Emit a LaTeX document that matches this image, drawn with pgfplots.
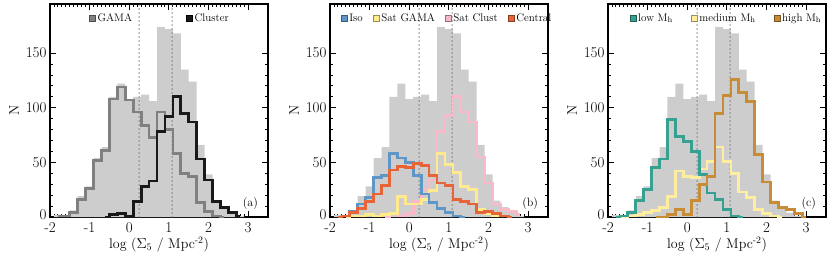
\documentclass[border=0pt]{standalone}
\usepackage{pgfplots}
\pgfplotsset{compat=1.18}
\definecolor{gfill}{RGB}{205,205,205}
\definecolor{gama}{RGB}{128,128,128}
\definecolor{clus}{RGB}{25,25,25}
\definecolor{iso}{RGB}{95,150,200}
\definecolor{satg}{RGB}{255,235,140}
\definecolor{satc}{RGB}{250,185,200}
\definecolor{cent}{RGB}{230,100,55}
\definecolor{lowm}{RGB}{55,160,145}
\definecolor{medm}{RGB}{255,238,160}
\definecolor{highm}{RGB}{200,140,55}
\definecolor{dotc}{RGB}{100,100,100}
\pgfplotsset{
  panel/.style={
    scale only axis, width=218pt, height=213pt, anchor=south west,
    xmin=-2, xmax=3.5, ymin=0, ymax=195,
    xtick={-2,-1,0,1,2,3}, ytick={0,50,100,150},
    yticklabels={\raisebox{4pt}{0},50,100,150},
    minor x tick num=9, minor y tick num=4,
    major tick length=6pt, minor tick length=3pt,
    every tick/.style={black, line width=0.9pt},
    axis line style={line width=1.6pt},
    tick label style={font=\fontsize{15}{17}\selectfont},
    xticklabel style={yshift=-2pt},
    /pgf/number format/assume math mode=true,
    label style={font=\fontsize{14}{16}\selectfont},
    xlabel style={yshift=3pt},
    xlabel={log ($\Sigma_5$ / Mpc\textsuperscript{-2})},
    ylabel={N},
    clip=false,
    legend style={draw=none, fill=none, anchor=north west,
      font=\fontsize{11}{13}\selectfont, legend columns=-1},
  },
  hist/.style={const plot mark mid, line width=2.7pt, forget plot},
  tot/.style={ybar interval, fill=gfill, draw=none, forget plot},
  dotl/.style={dotc, line width=1.4pt, dash pattern=on 0pt off 4pt, line cap=round, forget plot},
  legsq/.style={legend image code/.code={\draw[##1, line width=0.5pt] (0pt,-3pt) rectangle (6pt,3pt);}},
}
\begin{document}
\begin{tikzpicture}
\useasboundingbox (0pt,0pt) rectangle (830pt,255pt);
% ---------------- panel (a)
\begin{axis}[panel, at={(50pt,38pt)},
  legend style={at={(0.165,0.975)}, /tikz/every even column/.append style={column sep=52pt}}]
\addlegendimage{legsq, draw=gama!60!black, fill=gama}
\addlegendentry{GAMA}
\addlegendimage{legsq, draw=black, fill=clus}
\addlegendentry{Cluster}
\addplot[tot] coordinates {(-1.9,2) (-1.7,2) (-1.5,6) (-1.3,19) (-1.1,28) (-0.9,54) (-0.7,64) (-0.5,110) (-0.3,122) (-0.1,108) (0.1,110) (0.3,112) (0.5,106) (0.7,174) (0.9,172) (1.1,168) (1.3,135) (1.5,124) (1.7,66) (1.9,39) (2.1,15) (2.3,9) (2.5,4) (2.7,1) (2.9,1)};
\addplot[dotl] coordinates {(0.25,0) (0.25,195)};
\addplot[dotl] coordinates {(1.08,0) (1.08,195)};
\addplot[hist, gama] coordinates {(-1.8,1) (-1.6,1) (-1.4,4) (-1.2,16) (-1.0,26) (-0.8,52) (-0.6,61) (-0.4,108) (-0.2,119) (0.0,107) (0.2,96) (0.4,84) (0.6,73) (0.8,96) (1.0,80) (1.2,58) (1.4,40) (1.6,37) (1.8,13) (2.0,5) (2.2,1) (2.4,0)};
\addplot[hist, clus] coordinates {(-0.6,0) (-0.4,2) (-0.2,3) (0.0,1) (0.2,14) (0.4,28) (0.6,33) (0.8,78) (1.0,92) (1.2,110) (1.4,95) (1.6,87) (1.8,53) (2.0,34) (2.2,14) (2.4,9) (2.6,4) (2.8,1)};
\node[anchor=south east, font=\fontsize{12}{14}\selectfont] at (rel axis cs:0.97,0.02) {(a)};
\end{axis}
% ---------------- panel (b)
\begin{axis}[panel, at={(330pt,38pt)},
  legend style={at={(0.035,0.975)}, /tikz/every even column/.append style={column sep=8pt}}]
\addlegendimage{legsq, draw=iso!60!black, fill=iso}
\addlegendentry{Iso}
\addlegendimage{legsq, draw=satg!60!black, fill=satg}
\addlegendentry{Sat GAMA}
\addlegendimage{legsq, draw=satc!60!black, fill=satc}
\addlegendentry{Sat Clust}
\addlegendimage{legsq, draw=cent!60!black, fill=cent}
\addlegendentry{Central}
\addplot[tot] coordinates {(-1.9,2) (-1.7,2) (-1.5,6) (-1.3,19) (-1.1,28) (-0.9,54) (-0.7,64) (-0.5,110) (-0.3,122) (-0.1,108) (0.1,110) (0.3,112) (0.5,106) (0.7,174) (0.9,172) (1.1,168) (1.3,135) (1.5,124) (1.7,66) (1.9,39) (2.1,15) (2.3,9) (2.5,4) (2.7,1) (2.9,1)};
\addplot[dotl] coordinates {(0.25,0) (0.25,195)};
\addplot[dotl] coordinates {(1.08,0) (1.08,195)};
\addplot[hist, satc] coordinates {(-0.6,0) (-0.4,3) (-0.2,1) (0.0,3) (0.2,14) (0.4,25) (0.6,34) (0.8,78) (1.0,93) (1.2,110) (1.4,96) (1.6,87) (1.8,55) (2.0,31) (2.2,12) (2.4,7) (2.6,5) (2.8,2)};
\addplot[hist, satg] coordinates {(-1.6,0) (-1.4,1) (-1.2,1) (-1.0,2) (-0.8,1) (-0.6,2) (-0.4,3) (-0.2,19) (0.0,12) (0.2,12) (0.4,16) (0.6,24) (0.8,58) (1.0,48) (1.2,41) (1.4,28) (1.6,25) (1.8,7) (2.0,3) (2.2,1) (2.4,1) (2.6,0)};
\addplot[hist, iso] coordinates {(-1.8,0) (-1.6,1) (-1.4,5) (-1.2,12) (-1.0,18) (-0.8,36) (-0.6,38) (-0.4,58) (-0.2,54) (0.0,50) (0.2,38) (0.4,21) (0.6,13) (0.8,8) (1.0,4) (1.2,1) (1.4,0)};
\addplot[hist, cent] coordinates {(-1.8,0) (-1.6,1) (-1.4,4) (-1.2,8) (-1.0,14) (-0.8,21) (-0.6,29) (-0.4,43) (-0.2,46) (0.0,45) (0.2,49) (0.4,47) (0.6,38) (0.8,31) (1.0,29) (1.2,16) (1.4,14) (1.6,12) (1.8,4) (2.0,5) (2.2,3) (2.4,1) (2.6,0)};
\node[anchor=south east, font=\fontsize{12}{14}\selectfont] at (rel axis cs:0.97,0.02) {(b)};
\end{axis}
% ---------------- panel (c)
\begin{axis}[panel, at={(608pt,38pt)},
  legend style={at={(0.085,0.975)}, /tikz/every even column/.append style={column sep=16pt}}]
\addlegendimage{legsq, draw=lowm!60!black, fill=lowm}
\addlegendentry{low M$_\mathrm{h}$}
\addlegendimage{legsq, draw=medm!60!black, fill=medm}
\addlegendentry{medium M$_\mathrm{h}$}
\addlegendimage{legsq, draw=highm!60!black, fill=highm}
\addlegendentry{high M$_\mathrm{h}$}
\addplot[tot] coordinates {(-1.9,2) (-1.7,2) (-1.5,6) (-1.3,19) (-1.1,28) (-0.9,54) (-0.7,64) (-0.5,110) (-0.3,122) (-0.1,108) (0.1,110) (0.3,112) (0.5,106) (0.7,174) (0.9,172) (1.1,168) (1.3,135) (1.5,124) (1.7,66) (1.9,39) (2.1,15) (2.3,9) (2.5,4) (2.7,1) (2.9,1)};
\addplot[dotl] coordinates {(0.25,0) (0.25,195)};
\addplot[dotl] coordinates {(1.08,0) (1.08,195)};
\addplot[hist, medm] coordinates {(-1.8,0) (-1.6,0) (-1.4,1) (-1.2,2) (-1.0,4) (-0.8,6) (-0.6,9) (-0.4,19) (-0.2,42) (0.0,37) (0.2,36) (0.4,44) (0.6,51) (0.8,64) (1.0,51) (1.2,40) (1.4,23) (1.6,18) (1.8,7) (2.0,3) (2.2,1) (2.4,0)};
\addplot[hist, lowm] coordinates {(-1.8,0) (-1.6,1) (-1.4,4) (-1.2,15) (-1.0,25) (-0.8,45) (-0.6,53) (-0.4,89) (-0.2,74) (0.0,69) (0.2,60) (0.4,39) (0.6,22) (0.8,16) (1.0,7) (1.2,1) (1.4,0)};
\addplot[hist, highm] coordinates {(-0.8,0) (-0.6,0) (-0.4,2) (-0.2,7) (0.0,2) (0.2,15) (0.4,30) (0.6,37) (0.8,95) (1.0,111) (1.2,126) (1.4,114) (1.6,106) (1.8,57) (2.0,32) (2.2,13) (2.4,9) (2.6,7) (2.8,3) (3.0,0)};
\node[anchor=south east, font=\fontsize{12}{14}\selectfont] at (rel axis cs:0.97,0.02) {(c)};
\end{axis}
\end{tikzpicture}
\end{document}
